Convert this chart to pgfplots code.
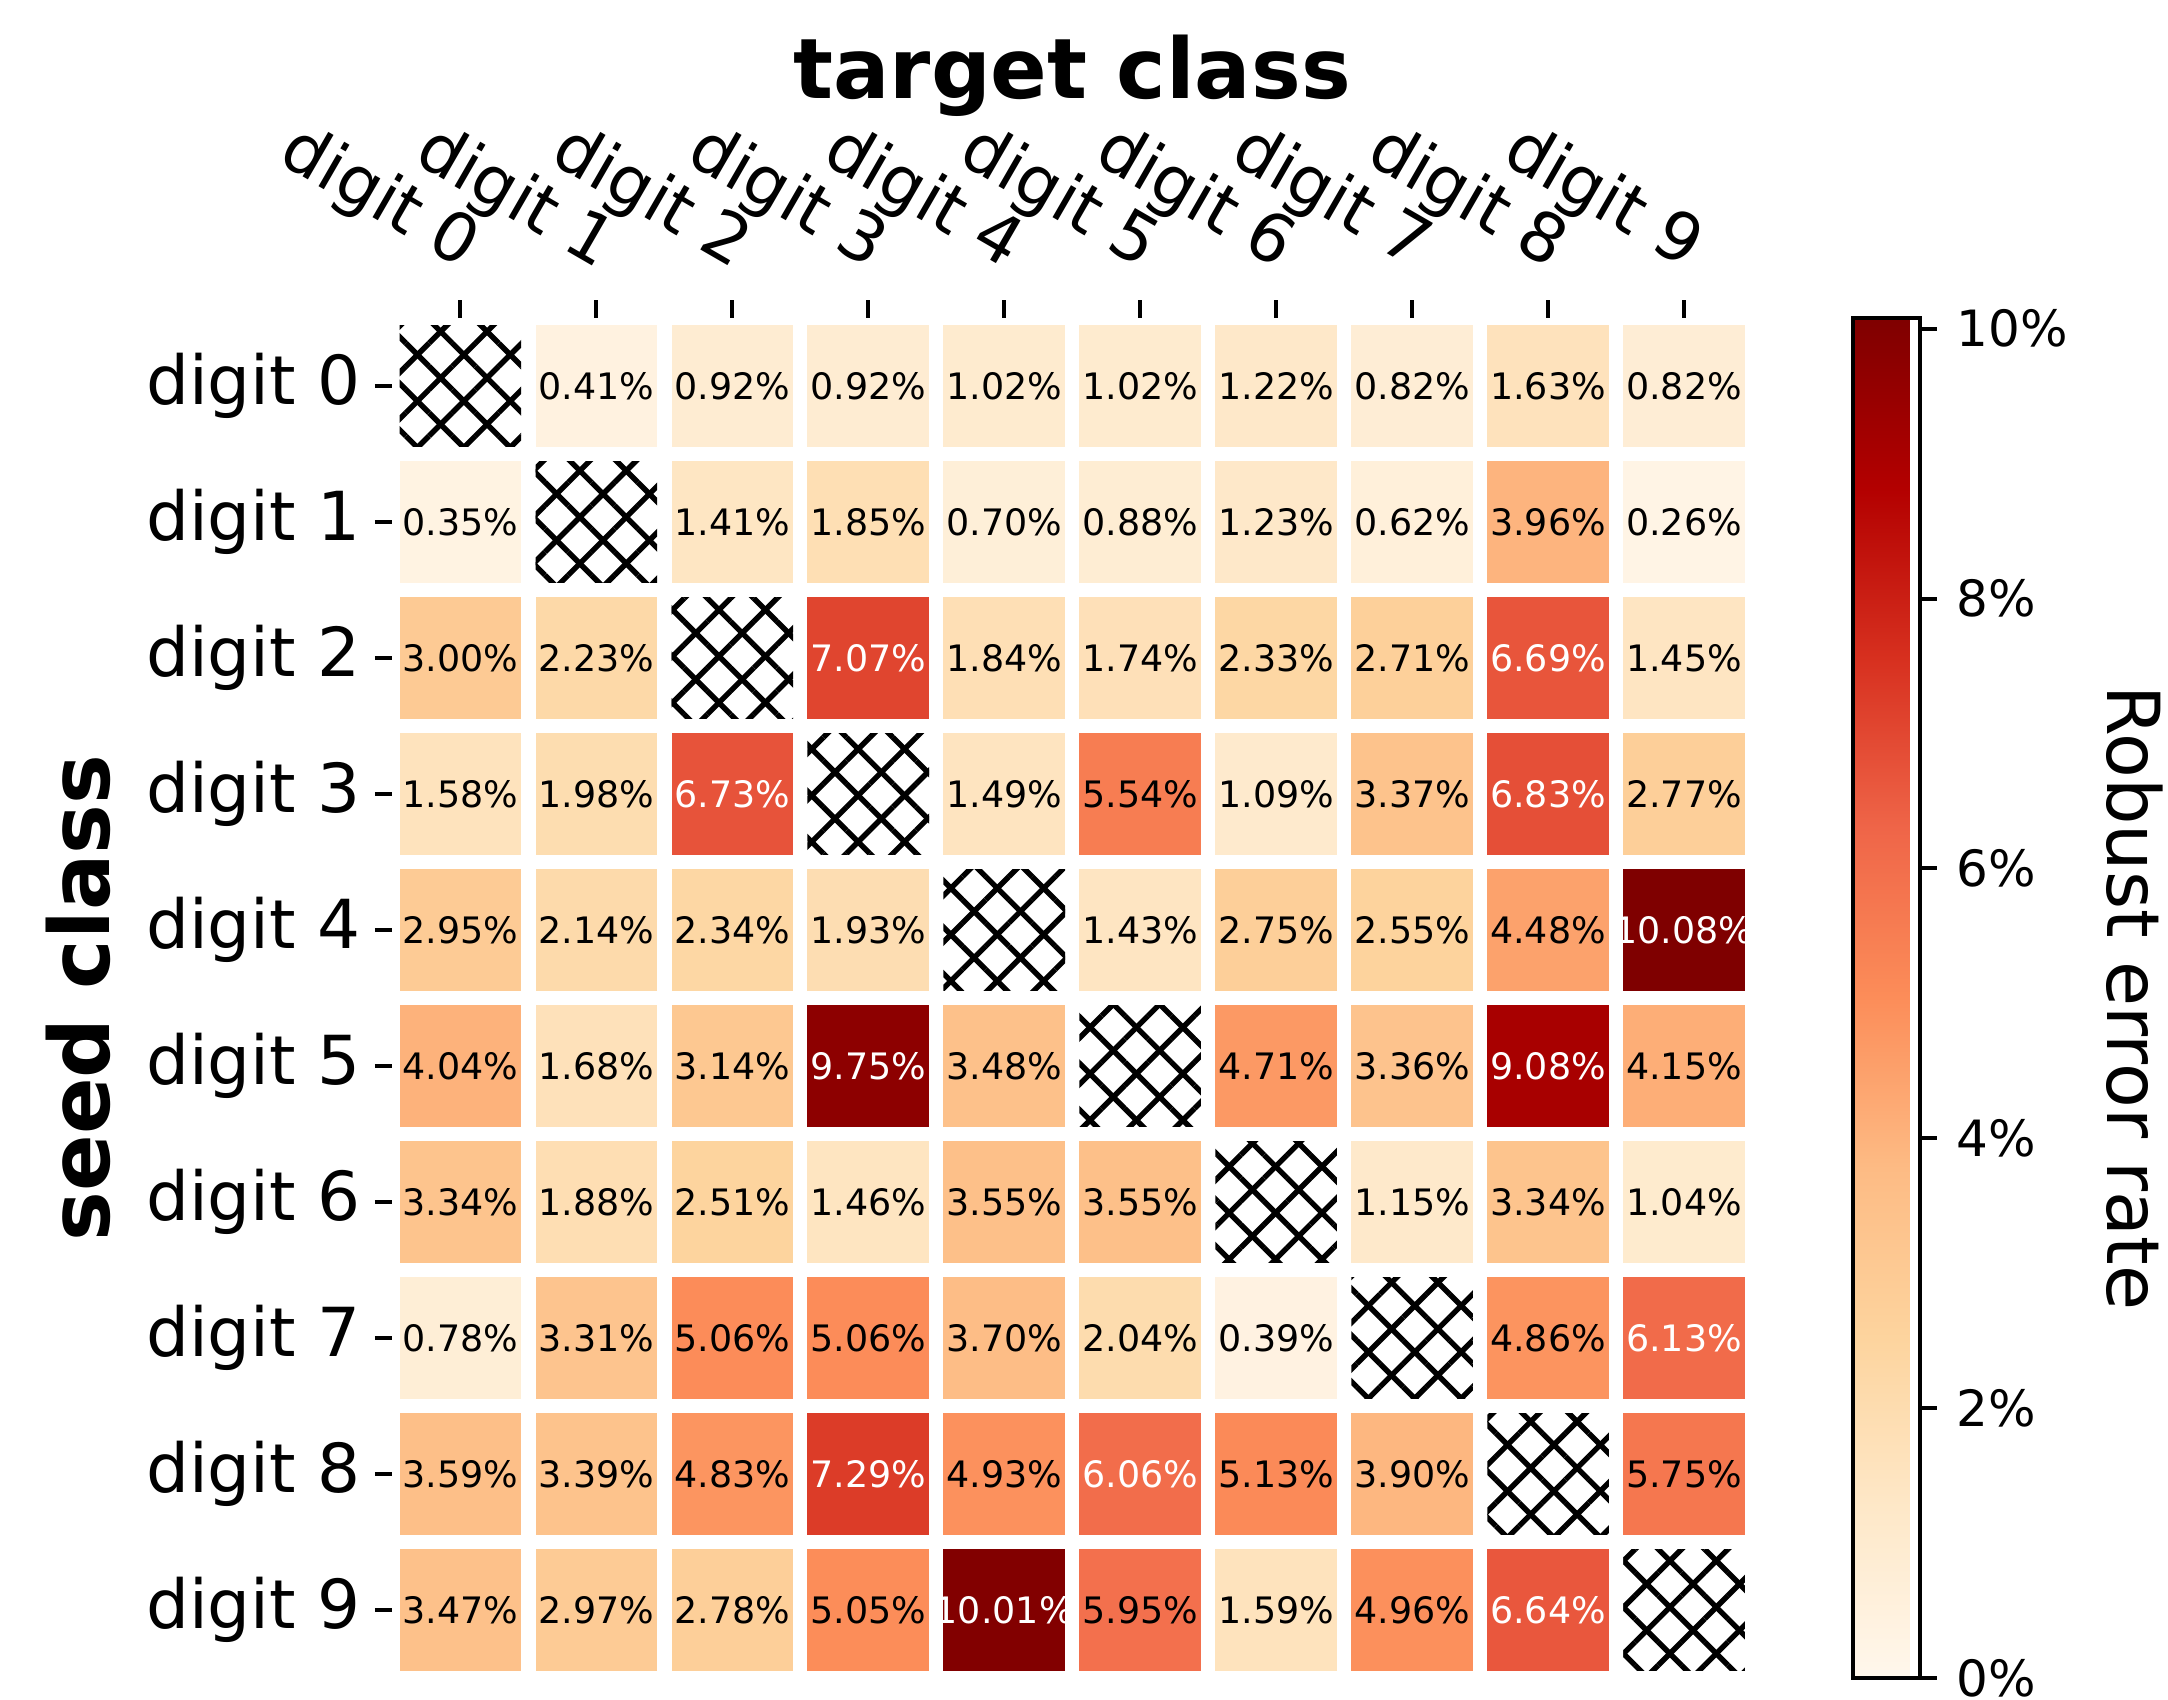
\documentclass[border=0pt]{standalone}
\usepackage{fontspec}
\setmainfont{DejaVu Sans}
\usepackage{pgfplots}
\usepackage{pgfplotstable}
\pgfplotsset{compat=1.18, /pgf/number format/assume math mode=true}
\usetikzlibrary{patterns.meta}

% tc: 100 = white label, 0 = black label
\pgfplotstableread{
x y v tc
1 0 0.41 0
2 0 0.92 0
3 0 0.92 0
4 0 1.02 0
5 0 1.02 0
6 0 1.22 0
7 0 0.82 0
8 0 1.63 0
9 0 0.82 0
0 1 0.35 0
2 1 1.41 0
3 1 1.85 0
4 1 0.70 0
5 1 0.88 0
6 1 1.23 0
7 1 0.62 0
8 1 3.96 0
9 1 0.26 0
0 2 3.00 0
1 2 2.23 0
3 2 7.07 100
4 2 1.84 0
5 2 1.74 0
6 2 2.33 0
7 2 2.71 0
8 2 6.69 100
9 2 1.45 0
0 3 1.58 0
1 3 1.98 0
2 3 6.73 100
4 3 1.49 0
5 3 5.54 0
6 3 1.09 0
7 3 3.37 0
8 3 6.83 100
9 3 2.77 0
0 4 2.95 0
1 4 2.14 0
2 4 2.34 0
3 4 1.93 0
5 4 1.43 0
6 4 2.75 0
7 4 2.55 0
8 4 4.48 0
9 4 10.08 100
0 5 4.04 0
1 5 1.68 0
2 5 3.14 0
3 5 9.75 100
4 5 3.48 0
6 5 4.71 0
7 5 3.36 0
8 5 9.08 100
9 5 4.15 0
0 6 3.34 0
1 6 1.88 0
2 6 2.51 0
3 6 1.46 0
4 6 3.55 0
5 6 3.55 0
7 6 1.15 0
8 6 3.34 0
9 6 1.04 0
0 7 0.78 0
1 7 3.31 0
2 7 5.06 0
3 7 5.06 0
4 7 3.70 0
5 7 2.04 0
6 7 0.39 0
8 7 4.86 0
9 7 6.13 100
0 8 3.59 0
1 8 3.39 0
2 8 4.83 0
3 8 7.29 100
4 8 4.93 0
5 8 6.06 100
6 8 5.13 0
7 8 3.90 0
9 8 5.75 0
0 9 3.47 0
1 9 2.97 0
2 9 2.78 0
3 9 5.05 0
4 9 10.01 100
5 9 5.95 0
6 9 1.59 0
7 9 4.96 0
8 9 6.64 100
}\cells

\tikzset{
  hatchcell/.style={draw=none, fill=white,
    postaction={pattern={Lines[angle=45,distance=8.2pt,line width=1.35pt]}, pattern color=black},
    postaction={pattern={Lines[angle=-45,distance=8.2pt,line width=1.35pt]}, pattern color=black}},
}

\begin{document}
\begin{tikzpicture}
\useasboundingbox (0,0) rectangle (542pt,425pt);
\begin{axis}[
  at={(98.1pt,5.5pt)}, anchor=south west,
  scale only axis, width=339.9pt, height=340pt,
  xmin=-0.5, xmax=9.5, ymin=-0.5, ymax=9.5, y dir=reverse,
  enlargelimits=false,
  axis x line*=top, axis y line*=left,
  axis line style={draw=none},
  xtick={0,...,9}, ytick={0,...,9},
  xticklabels={digit 0,digit 1,digit 2,digit 3,digit 4,digit 5,digit 6,digit 7,digit 8,digit 9},
  yticklabels={digit 0,digit 1,digit 2,digit 3,digit 4,digit 5,digit 6,digit 7,digit 8,digit 9},
  tick align=outside,
  major tick length=4.4pt,
  tick style={black, line width=1pt},
  xticklabel style={font=\fontsize{16.9}{19}\selectfont, rotate=-30, anchor=south east},
  yticklabel style={font=\fontsize{16.9}{19}\selectfont},
  xlabel={target class}, ylabel={seed class},
  xlabel style={at={(axis description cs:0.5,1)}, yshift=54.9pt, anchor=base, font=\fontsize{20.9}{24}\selectfont\bfseries},
  every axis y label/.style={at={(axis description cs:0,0.5)}, xshift=-70.6pt, rotate=90, anchor=base, font=\fontsize{20.9}{24}\selectfont\bfseries},
  colormap={OrRd}{rgb255=(255,247,236) rgb255=(254,232,200) rgb255=(253,212,158) rgb255=(253,187,132) rgb255=(252,141,89) rgb255=(239,101,72) rgb255=(215,48,31) rgb255=(179,0,0) rgb255=(127,0,0)},
  point meta min=0, point meta max=10.08,
  colorbar,
  colorbar style={
    at={(parent axis.north east)}, anchor=north west, xshift=16.7pt,
    width=16.75pt, height=340pt,
    ytick={0,2,4,6,8,10},
    ytick pos=right, yticklabel pos=right,
    tick align=outside, major tick length=4.2pt,
    tick style={black, line width=1pt},
    axis line style={line width=1pt},
    yticklabel={\pgfmathprintnumber{\tick}\%},
    yticklabel style={font=\fontsize{12.5}{14}\selectfont, xshift=1.5pt},
    ylabel={Robust error rate},
    every axis y label/.style={at={(axis description cs:1,0.5)}, xshift=47pt, rotate=-90, anchor=base, font=\fontsize{18.3}{21}\selectfont},
  },
]
\addplot[scatter, only marks, mark=square*, mark size=15pt,
  scatter/use mapped color={draw=mapped color, fill=mapped color},
  point meta=explicit,
] table[x=x, y=y, meta=v] {\cells};
\addplot[draw=none, mark=none,
  point meta=explicit,
  visualization depends on={\thisrow{tc} \as \labcol},
  nodes near coords={\pgfmathprintnumber[fixed,fixed zerofill,precision=2]{\pgfplotspointmeta}\%},
  nodes near coords align=center,
  every node near coord/.append style={anchor=center, text=white!\labcol!black, font=\fontsize{9.1}{10}\selectfont},
] table[x=x, y=y, meta=v] {\cells};
\addplot[hatchcell] coordinates {(-0.447,-0.447) (0.447,-0.447) (0.447,0.447) (-0.447,0.447)} -- cycle;
\addplot[hatchcell] coordinates {(0.553,0.553) (1.447,0.553) (1.447,1.447) (0.553,1.447)} -- cycle;
\addplot[hatchcell] coordinates {(1.553,1.553) (2.447,1.553) (2.447,2.447) (1.553,2.447)} -- cycle;
\addplot[hatchcell] coordinates {(2.553,2.553) (3.447,2.553) (3.447,3.447) (2.553,3.447)} -- cycle;
\addplot[hatchcell] coordinates {(3.553,3.553) (4.447,3.553) (4.447,4.447) (3.553,4.447)} -- cycle;
\addplot[hatchcell] coordinates {(4.553,4.553) (5.447,4.553) (5.447,5.447) (4.553,5.447)} -- cycle;
\addplot[hatchcell] coordinates {(5.553,5.553) (6.447,5.553) (6.447,6.447) (5.553,6.447)} -- cycle;
\addplot[hatchcell] coordinates {(6.553,6.553) (7.447,6.553) (7.447,7.447) (6.553,7.447)} -- cycle;
\addplot[hatchcell] coordinates {(7.553,7.553) (8.447,7.553) (8.447,8.447) (7.553,8.447)} -- cycle;
\addplot[hatchcell] coordinates {(8.553,8.553) (9.447,8.553) (9.447,9.447) (8.553,9.447)} -- cycle;
\end{axis}
\end{tikzpicture}
\end{document}
